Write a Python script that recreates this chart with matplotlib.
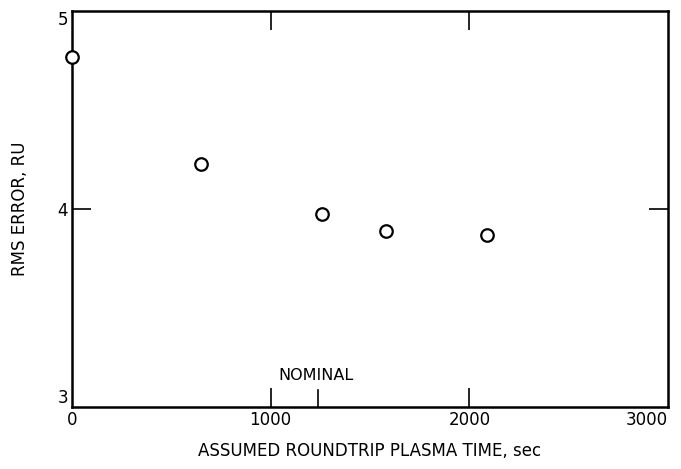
import matplotlib
matplotlib.use("Agg")
import matplotlib.pyplot as plt

# Roundtrip plasma time (sec) vs RMS error (range units)
plasma_time = [0, 650, 1258, 1580, 2090]
rms_error = [4.77, 4.23, 3.975, 3.89, 3.87]

x_ticks = [0, 1000, 2000, 3000]
y_ticks = [3, 4, 5]
nominal_time = 1240

plt.rcParams['font.family'] = ['DejaVu Sans']

fig = plt.figure(figsize=(6.81, 4.69), dpi=100)
ax = fig.add_axes([0.1057, 0.132, 0.8753, 0.8445])

ax.plot(plasma_time, rms_error, linestyle='none', marker='o', markersize=9,
        markerfacecolor='white', markeredgecolor='black', markeredgewidth=1.6,
        clip_on=False, zorder=5)

ax.set_xlim(0, 3000)
ax.set_ylim(3, 5)
ax.set_xticks(x_ticks)
ax.set_yticks(y_ticks)
ax.set_xticklabels([str(v) for v in x_ticks])
ax.set_yticklabels([str(v) for v in y_ticks])

ax.tick_params(axis='both', direction='in', length=14, width=1.2,
               labelsize=12, top=True, right=True, pad=3)

# no tick marks at the corners, only the labels
for ticks in (ax.xaxis.get_major_ticks(), ax.yaxis.get_major_ticks()):
    for t in (ticks[0], ticks[-1]):
        t.tick1line.set_visible(False)
        t.tick2line.set_visible(False)

ax.get_xticklabels()[-1].set_horizontalalignment('right')
ax.get_yticklabels()[-1].set_verticalalignment('top')
ax.get_yticklabels()[0].set_verticalalignment('bottom')

for s in ax.spines.values():
    s.set_linewidth(1.8)
    s.set_color('black')

# nominal marker on the time axis
ax.plot([nominal_time, nominal_time], [3, 3.085], color='black', linewidth=1.2)
ax.text(1230, 3.12, 'NOMINAL', fontsize=11.5, ha='center', va='bottom')

ax.set_xlabel('ASSUMED ROUNDTRIP PLASMA TIME, sec', fontsize=12, labelpad=9)
ax.set_ylabel('RMS ERROR, RU', fontsize=12, labelpad=20)

fig.savefig('out.png', dpi=100)
